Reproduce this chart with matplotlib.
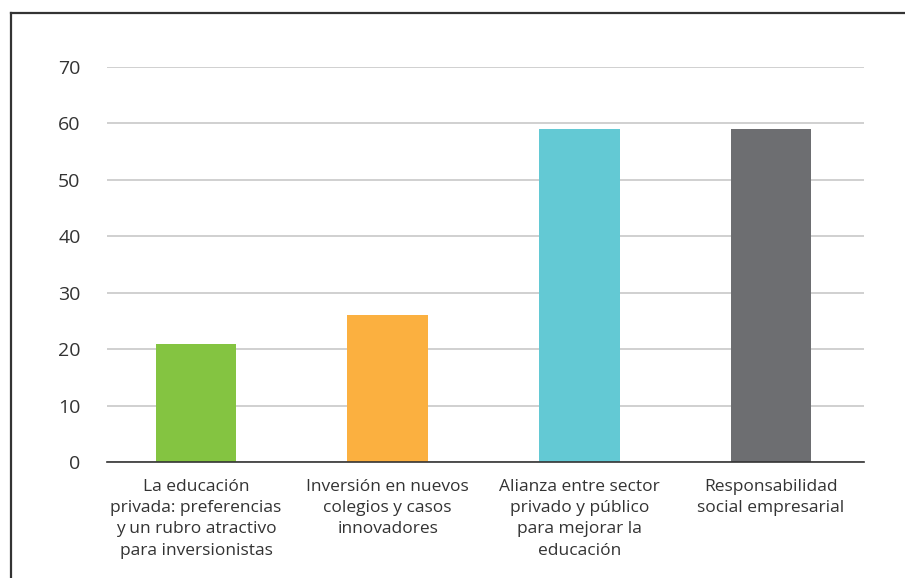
import matplotlib
matplotlib.use("Agg")
import matplotlib.pyplot as plt
from matplotlib.lines import Line2D

# Data
categories = [
    "La educación\nprivada: preferencias\ny un rubro atractivo\npara inversionistas",
    "Inversión en nuevos\ncolegios y casos\ninnovadores",
    "Alianza entre sector\nprivado y público\npara mejorar la\neducación",
    "Responsabilidad\nsocial empresarial",
]
values = [21, 26, 59, 59]
colors = ["#84c441", "#fbb040", "#63c9d4", "#6d6e71"]
yticks = [0, 10, 20, 30, 40, 50, 60, 70]

plt.rcParams['font.family'] = ['Open Sans', 'DejaVu Sans']

W, H = 905, 578
fig = plt.figure(figsize=(W / 100, H / 100), dpi=100)
ax = fig.add_axes([107 / W, (H - 462) / H, (864 - 107) / W, (462 - 67) / H])

x = list(range(len(categories)))
ax.bar(x, values, width=0.42, color=colors, zorder=3)

ax.set_xlim(-0.464, 3.485)
ax.set_ylim(0, 70)
ax.set_yticks(yticks)
ax.set_xticks(x)
ax.set_xticklabels(categories, fontsize=12.5, color="#333333", linespacing=1.45)
ax.tick_params(axis="y", length=0, pad=19, labelsize=14, labelcolor="#333333")
ax.tick_params(axis="x", length=0, pad=12)

ax.yaxis.grid(True, color="#c8c8c8", linewidth=1.2, zorder=0)
for s in ["top", "right", "left"]:
    ax.spines[s].set_visible(False)
ax.spines["bottom"].set_color("#333333")
ax.spines["bottom"].set_linewidth(1.2)
ax.spines["bottom"].set_zorder(4)

# outer frame (cropped box: left and top edges)
fig.add_artist(Line2D([10.5 / W, 10.5 / W], [0, (H - 13) / H], color="#333333", lw=1.6))
fig.add_artist(Line2D([10.5 / W, 1], [(H - 13) / H, (H - 13) / H], color="#333333", lw=1.6))

fig.savefig("out.png", dpi=100)
